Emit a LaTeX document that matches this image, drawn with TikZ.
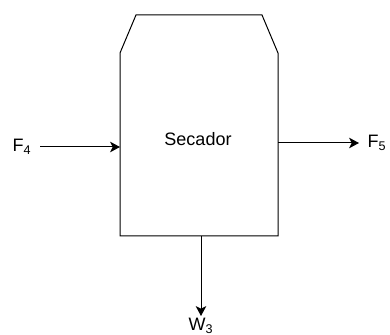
\documentclass[tikz,border=0pt]{standalone}
\usepackage{fontspec}
\setmainfont{Liberation Sans}
\usetikzlibrary{positioning, arrows.meta}

\begin{document}
\begin{tikzpicture}[
    x=0.75pt, y=-0.75pt,
    every node/.style={font=\fontsize{13.5}{16}\selectfont, inner sep=1.5pt},
    flow/.style={draw, line width=0.75pt, -{Stealth[length=7.5pt, width=8pt, inset=2pt]}},
    vessel/.style={draw, line width=0.75pt},
    stream/.style={outer xsep=5pt}
]
\useasboundingbox (0,0) rectangle (390,335);
% secador
\draw[vessel] (120,236) -- (120,53) -- (136,15) -- (262,15) -- (278,53) -- (278,236) -- cycle;
\node (secador) [anchor=base] at (198,146) {Secador};
\coordinate (inL) at (120,147);
\coordinate (outR) at (278,143);
\coordinate (outB) at (201,236);
% corrientes
\node (f4) [stream, anchor=base east] at (40,152) {F\textsubscript{4}};
\node (f5) [stream, anchor=base west] at (359,148) {F\textsubscript{5}};
\node (w3) [anchor=north] at (201,316) {W\textsubscript{3}};
\draw[flow] (f4.east |- inL) -- (inL);
\draw[flow] (outR) -- (outR -| f5.west);
\draw[flow] (outB) -- (w3.north);
\end{tikzpicture}
\end{document}
